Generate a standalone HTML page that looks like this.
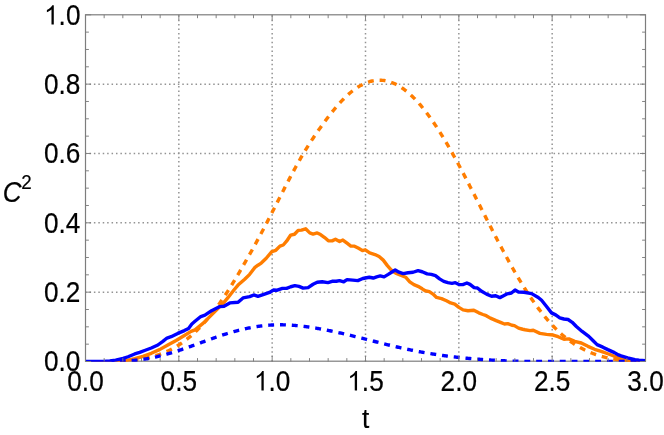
<!DOCTYPE html>
<html><head><meta charset="utf-8"><title>plot</title>
<style>html,body{margin:0;padding:0;background:#fff;}svg{display:block;font-family:"Liberation Sans",sans-serif;}</style>
</head><body>
<svg width="664" height="435" viewBox="0 0 664 435">
<rect width="664" height="435" fill="#fff"/>
<g stroke="#939393" stroke-width="1.5" stroke-dasharray="1.5 2.92" fill="none"><line x1="178.83" y1="361.50" x2="178.83" y2="14.80"/><line x1="272.17" y1="361.50" x2="272.17" y2="14.80"/><line x1="365.50" y1="361.50" x2="365.50" y2="14.80"/><line x1="458.83" y1="361.50" x2="458.83" y2="14.80"/><line x1="552.17" y1="361.50" x2="552.17" y2="14.80"/><line x1="85.50" y1="292.16" x2="645.50" y2="292.16" stroke-dashoffset="0.45"/><line x1="85.50" y1="222.82" x2="645.50" y2="222.82" stroke-dashoffset="0.45"/><line x1="85.50" y1="153.48" x2="645.50" y2="153.48" stroke-dashoffset="0.45"/><line x1="85.50" y1="84.14" x2="645.50" y2="84.14" stroke-dashoffset="0.45"/></g>
<rect x="85.5" y="14.8" width="560.0" height="346.4" fill="none" stroke="#7d7d7d" stroke-width="1.2"/>
<clipPath id="c"><rect x="85.5" y="14.8" width="560.0" height="346.84999999999997"/></clipPath><g clip-path="url(#c)"><path d="M85.50 363.58 L86.43 363.58 L87.37 363.58 L88.30 363.58 L89.23 363.58 L90.17 363.58 L91.10 363.58 L92.03 363.58 L92.97 363.58 L93.90 363.58 L94.83 363.58 L95.77 363.58 L96.70 363.58 L97.63 363.58 L98.57 363.58 L99.50 363.58 L100.43 363.58 L101.37 363.58 L102.30 363.58 L103.23 363.58 L104.17 363.58 L105.10 363.58 L106.03 363.58 L106.97 363.58 L107.90 363.58 L108.83 363.58 L109.77 363.58 L110.70 363.58 L111.63 363.58 L112.57 363.58 L113.50 363.58 L114.43 363.58 L115.37 363.58 L116.30 363.58 L117.23 361.27 L118.17 361.24 L119.10 361.21 L120.03 361.18 L120.97 361.14 L121.90 361.10 L122.83 361.06 L123.77 361.02 L124.70 360.97 L125.63 360.92 L126.57 360.86 L127.50 360.80 L128.43 360.74 L129.37 360.67 L130.30 360.60 L131.23 360.53 L132.17 360.17 L133.10 360.07 L134.03 359.97 L134.97 359.87 L135.90 359.76 L136.83 359.64 L137.77 359.52 L138.70 359.39 L139.63 359.25 L140.57 359.11 L141.50 358.96 L142.43 358.80 L143.37 358.64 L144.30 358.47 L145.23 358.29 L146.17 358.10 L147.10 357.90 L148.03 357.70 L148.97 357.49 L149.90 357.27 L150.83 357.04 L151.77 356.80 L152.70 356.55 L153.63 356.29 L154.57 356.02 L155.50 355.75 L156.43 355.46 L157.37 355.16 L158.30 354.85 L159.23 354.53 L160.17 354.20 L161.10 353.86 L162.03 353.50 L162.97 353.14 L163.90 352.76 L164.83 352.37 L165.77 351.97 L166.70 351.56 L167.63 351.13 L168.57 350.69 L169.50 350.24 L170.43 349.77 L171.37 349.29 L172.30 348.80 L173.23 348.30 L174.17 347.78 L175.10 347.24 L176.03 346.69 L176.97 346.13 L177.90 345.55 L178.83 344.96 L179.77 344.36 L180.70 343.73 L181.63 343.10 L182.57 342.44 L183.50 341.78 L184.43 341.09 L185.37 340.39 L186.30 339.68 L187.23 338.95 L188.17 338.20 L189.10 337.44 L190.03 336.66 L190.97 335.86 L191.90 335.05 L192.83 334.22 L193.77 333.37 L194.70 332.51 L195.63 331.63 L196.57 330.73 L197.50 329.81 L198.43 328.88 L199.37 327.94 L200.30 326.97 L201.23 325.99 L202.17 324.99 L203.10 323.98 L204.03 322.95 L204.97 321.90 L205.90 320.83 L206.83 319.75 L207.77 318.65 L208.70 317.54 L209.63 316.40 L210.57 315.26 L211.50 314.09 L212.43 312.91 L213.37 311.71 L214.30 310.50 L215.23 309.27 L216.17 308.02 L217.10 306.76 L218.03 305.48 L218.97 304.19 L219.90 302.88 L220.83 301.55 L221.77 300.21 L222.70 298.86 L223.63 297.49 L224.57 296.10 L225.50 294.70 L226.43 293.28 L227.37 291.85 L228.30 290.41 L229.23 288.95 L230.17 287.47 L231.10 285.99 L232.03 284.49 L232.97 282.97 L233.90 281.44 L234.83 279.90 L235.77 278.35 L236.70 276.79 L237.63 275.21 L238.57 273.63 L239.50 272.03 L240.43 270.43 L241.37 268.82 L242.30 267.21 L243.23 265.59 L244.17 263.96 L245.10 262.33 L246.03 260.70 L246.97 259.06 L247.90 257.42 L248.83 255.77 L249.77 254.12 L250.70 252.46 L251.63 250.80 L252.57 249.13 L253.50 247.45 L254.43 245.77 L255.37 244.08 L256.30 242.38 L257.23 240.67 L258.17 238.96 L259.10 237.24 L260.03 235.51 L260.97 233.77 L261.90 232.03 L262.83 230.27 L263.77 228.51 L264.70 226.73 L265.63 224.95 L266.57 223.17 L267.50 221.37 L268.43 219.57 L269.37 217.77 L270.30 215.96 L271.23 214.14 L272.17 212.32 L273.10 210.50 L274.03 208.68 L274.97 206.85 L275.90 205.03 L276.83 203.20 L277.77 201.37 L278.70 199.54 L279.63 197.72 L280.57 195.89 L281.50 194.07 L282.43 192.25 L283.37 190.44 L284.30 188.63 L285.23 186.82 L286.17 185.02 L287.10 183.22 L288.03 181.44 L288.97 179.66 L289.90 177.88 L290.83 176.12 L291.77 174.36 L292.70 172.62 L293.63 170.88 L294.57 169.16 L295.50 167.45 L296.43 165.75 L297.37 164.06 L298.30 162.39 L299.23 160.73 L300.17 159.09 L301.10 157.46 L302.03 155.85 L302.97 154.25 L303.90 152.68 L304.83 151.12 L305.77 149.57 L306.70 148.05 L307.63 146.55 L308.57 145.07 L309.50 143.61 L310.43 142.16 L311.37 140.73 L312.30 139.32 L313.23 137.93 L314.17 136.54 L315.10 135.18 L316.03 133.82 L316.97 132.48 L317.90 131.14 L318.83 129.82 L319.77 128.50 L320.70 127.20 L321.63 125.90 L322.57 124.61 L323.50 123.32 L324.43 122.05 L325.37 120.79 L326.30 119.54 L327.23 118.30 L328.17 117.07 L329.10 115.85 L330.03 114.64 L330.97 113.45 L331.90 112.28 L332.83 111.12 L333.77 109.97 L334.70 108.84 L335.63 107.72 L336.57 106.63 L337.50 105.55 L338.43 104.49 L339.37 103.44 L340.30 102.42 L341.23 101.41 L342.17 100.43 L343.10 99.47 L344.03 98.52 L344.97 97.60 L345.90 96.70 L346.83 95.82 L347.77 94.96 L348.70 94.13 L349.63 93.32 L350.57 92.53 L351.50 91.76 L352.43 91.01 L353.37 90.29 L354.30 89.60 L355.23 88.92 L356.17 88.27 L357.10 87.64 L358.03 87.04 L358.97 86.46 L359.90 85.91 L360.83 85.38 L361.77 84.88 L362.70 84.40 L363.63 83.95 L364.57 83.52 L365.50 83.12 L366.43 82.74 L367.37 82.39 L368.30 82.06 L369.23 81.76 L370.17 81.49 L371.10 81.24 L372.03 81.02 L372.97 80.82 L373.90 80.65 L374.83 80.51 L375.77 80.39 L376.70 80.30 L377.63 80.24 L378.57 80.20 L379.50 80.19 L380.43 80.21 L381.37 80.25 L382.30 80.32 L383.23 80.42 L384.17 80.54 L385.10 80.69 L386.03 80.87 L386.97 81.07 L387.90 81.30 L388.83 81.55 L389.77 81.83 L390.70 82.14 L391.63 82.48 L392.57 82.84 L393.50 83.22 L394.43 83.63 L395.37 84.07 L396.30 84.54 L397.23 85.03 L398.17 85.54 L399.10 86.09 L400.03 86.65 L400.97 87.24 L401.90 87.86 L402.83 88.50 L403.77 89.17 L404.70 89.86 L405.63 90.58 L406.57 91.32 L407.50 92.08 L408.43 92.87 L409.37 93.69 L410.30 94.52 L411.23 95.38 L412.17 96.27 L413.10 97.17 L414.03 98.10 L414.97 99.06 L415.90 100.03 L416.83 101.03 L417.77 102.05 L418.70 103.09 L419.63 104.16 L420.57 105.24 L421.50 106.35 L422.43 107.48 L423.37 108.63 L424.30 109.80 L425.23 110.99 L426.17 112.20 L427.10 113.43 L428.03 114.68 L428.97 115.95 L429.90 117.24 L430.83 118.54 L431.77 119.87 L432.70 121.21 L433.63 122.57 L434.57 123.95 L435.50 125.35 L436.43 126.77 L437.37 128.20 L438.30 129.64 L439.23 131.11 L440.17 132.59 L441.10 134.08 L442.03 135.60 L442.97 137.12 L443.90 138.66 L444.83 140.22 L445.77 141.79 L446.70 143.37 L447.63 144.96 L448.57 146.57 L449.50 148.20 L450.43 149.83 L451.37 151.48 L452.30 153.13 L453.23 154.80 L454.17 156.48 L455.10 158.18 L456.03 159.88 L456.97 161.59 L457.90 163.31 L458.83 165.04 L459.77 166.78 L460.70 168.53 L461.63 170.29 L462.57 172.06 L463.50 173.83 L464.43 175.61 L465.37 177.40 L466.30 179.19 L467.23 180.99 L468.17 182.79 L469.10 184.60 L470.03 186.42 L470.97 188.24 L471.90 190.06 L472.83 191.88 L473.77 193.71 L474.70 195.55 L475.63 197.38 L476.57 199.22 L477.50 201.06 L478.43 202.90 L479.37 204.74 L480.30 206.58 L481.23 208.42 L482.17 210.26 L483.10 212.11 L484.03 213.95 L484.97 215.79 L485.90 217.62 L486.83 219.46 L487.77 221.29 L488.70 223.12 L489.63 224.95 L490.57 226.78 L491.50 228.60 L492.43 230.41 L493.37 232.23 L494.30 234.03 L495.23 235.84 L496.17 237.64 L497.10 239.43 L498.03 241.21 L498.97 243.00 L499.90 244.77 L500.83 246.54 L501.77 248.29 L502.70 250.05 L503.63 251.79 L504.57 253.53 L505.50 255.25 L506.43 256.97 L507.37 258.68 L508.30 260.38 L509.23 262.07 L510.17 263.75 L511.10 265.42 L512.03 267.07 L512.97 268.72 L513.90 270.36 L514.83 271.98 L515.77 273.59 L516.70 275.19 L517.63 276.78 L518.57 278.36 L519.50 279.92 L520.43 281.47 L521.37 283.00 L522.30 284.52 L523.23 286.03 L524.17 287.53 L525.10 289.01 L526.03 290.47 L526.97 291.92 L527.90 293.36 L528.83 294.78 L529.77 296.19 L530.70 297.58 L531.63 298.95 L532.57 300.31 L533.50 301.65 L534.43 302.98 L535.37 304.29 L536.30 305.58 L537.23 306.86 L538.17 308.12 L539.10 309.37 L540.03 310.59 L540.97 311.81 L541.90 313.00 L542.83 314.17 L543.77 315.33 L544.70 316.48 L545.63 317.60 L546.57 318.71 L547.50 319.80 L548.43 320.87 L549.37 321.93 L550.30 322.97 L551.23 323.99 L552.17 325.00 L553.10 325.99 L554.03 326.96 L554.97 327.92 L555.90 328.86 L556.83 329.78 L557.77 330.68 L558.70 331.57 L559.63 332.44 L560.57 333.30 L561.50 334.14 L562.43 334.96 L563.37 335.77 L564.30 336.56 L565.23 337.33 L566.17 338.09 L567.10 338.83 L568.03 339.56 L568.97 340.27 L569.90 340.97 L570.83 341.65 L571.77 342.31 L572.70 342.96 L573.63 343.60 L574.57 344.22 L575.50 344.79 L576.43 345.37 L577.37 345.94 L578.30 346.49 L579.23 347.03 L580.17 347.56 L581.10 348.07 L582.03 348.57 L582.97 349.06 L583.90 349.54 L584.83 350.00 L585.77 350.45 L586.70 350.89 L587.63 351.31 L588.57 351.73 L589.50 352.13 L590.43 352.52 L591.37 352.90 L592.30 353.27 L593.23 353.63 L594.17 353.97 L595.10 354.31 L596.03 354.63 L596.97 354.94 L597.90 355.25 L598.83 355.54 L599.77 355.83 L600.70 356.10 L601.63 356.36 L602.57 356.62 L603.50 356.86 L604.43 357.10 L605.37 357.33 L606.30 357.55 L607.23 357.76 L608.17 357.96 L609.10 358.16 L610.03 358.35 L610.97 358.53 L611.90 358.70 L612.83 358.86 L613.77 359.02 L614.70 359.17 L615.63 359.31 L616.57 359.45 L617.50 359.58 L618.43 359.71 L619.37 359.83 L620.30 359.94 L621.23 360.05 L622.17 360.15 L623.10 360.24 L624.03 360.34 L624.97 360.42 L625.90 360.50 L626.83 360.58 L627.77 360.65 L628.70 360.72 L629.63 360.78 L630.57 360.84 L631.50 360.90 L632.43 360.95 L633.37 361.00 L634.30 361.05 L635.23 361.09 L636.17 361.13 L637.10 363.58 L638.03 363.58 L638.97 363.58 L639.90 363.58 L640.83 363.58 L641.77 363.58 L642.70 363.58 L643.63 363.58 L644.57 363.58 L645.50 363.58" stroke="#ff7d00" stroke-width="3.4" stroke-dasharray="5.9 5.9" stroke-dashoffset="-1.3" fill="none"/><path d="M85.50 363.58 L118.13 361.50 L127.24 360.41 L134.70 358.75 L142.98 356.27 L151.27 353.28 L159.55 349.64 L167.83 345.00 L176.11 340.53 L184.40 335.56 L191.02 331.42 L195.00 329.92 L203.28 323.13 L211.57 314.85 L219.85 306.57 L223.99 302.42 L228.13 297.45 L233.93 290.00 L238.07 285.09 L244.70 279.30 L249.67 274.33 L254.64 267.70 L257.95 265.21 L261.27 263.06 L266.23 258.26 L271.84 251.55 L275.80 250.30 L279.94 246.16 L283.25 245.00 L286.57 241.19 L290.71 235.06 L294.52 234.23 L298.16 230.42 L301.48 230.09 L305.62 228.77 L309.76 232.91 L313.07 234.07 L317.21 232.91 L320.53 234.57 L324.67 237.55 L328.31 240.70 L332.12 240.86 L335.44 239.20 L339.58 241.52 L342.89 240.03 L347.03 243.18 L350.84 246.16 L354.49 246.16 L358.63 248.32 L362.44 250.64 L365.26 249.81 L369.70 252.99 L374.97 254.52 L379.11 256.51 L383.25 260.15 L387.39 265.62 L391.54 270.26 L395.68 273.07 L400.65 275.23 L405.62 277.21 L409.76 281.85 L413.90 284.67 L418.04 286.33 L422.18 288.81 L425.20 290.77 L429.34 291.67 L433.00 294.07 L436.54 297.45 L441.51 298.61 L446.48 300.77 L450.62 302.92 L454.76 304.08 L458.90 307.39 L463.04 309.88 L468.01 310.71 L473.81 310.21 L478.78 312.86 L482.92 314.52 L486.23 315.68 L490.38 318.16 L496.17 320.65 L501.14 322.64 L504.46 323.96 L507.77 323.63 L511.91 325.29 L514.40 325.62 L518.54 328.10 L522.68 329.26 L525.00 329.76 L529.97 330.59 L533.28 330.26 L539.91 333.40 L546.54 334.40 L553.16 335.06 L558.13 336.72 L563.93 339.20 L568.90 338.87 L574.70 341.36 L581.33 343.01 L587.95 346.33 L594.58 349.31 L601.20 351.30 L607.83 353.78 L614.46 356.27 L621.08 358.75 L627.71 360.41 L635.00 361.23 L645.50 363.58" stroke="#ff7d00" stroke-width="3.4" stroke-linejoin="round" fill="none"/><path d="M85.50 363.58 L86.43 363.58 L87.37 363.58 L88.30 363.58 L89.23 363.58 L90.17 363.58 L91.10 363.58 L92.03 363.58 L92.97 363.58 L93.90 363.58 L94.83 363.58 L95.77 363.58 L96.70 363.58 L97.63 363.58 L98.57 363.58 L99.50 363.58 L100.43 363.58 L101.37 363.58 L102.30 363.58 L103.23 363.58 L104.17 363.58 L105.10 363.58 L106.03 363.58 L106.97 363.58 L107.90 363.58 L108.83 363.58 L109.77 363.58 L110.70 363.58 L111.63 363.58 L112.57 363.58 L113.50 361.37 L114.43 361.35 L115.37 361.33 L116.30 361.31 L117.23 361.29 L118.17 361.26 L119.10 361.23 L120.03 361.20 L120.97 361.17 L121.90 361.13 L122.83 361.10 L123.77 361.05 L124.70 361.01 L125.63 360.96 L126.57 360.91 L127.50 360.86 L128.43 360.80 L129.37 360.74 L130.30 360.67 L131.23 360.60 L132.17 360.53 L133.10 360.45 L134.03 360.37 L134.97 360.28 L135.90 360.19 L136.83 360.09 L137.77 359.99 L138.70 359.88 L139.63 359.77 L140.57 359.65 L141.50 359.52 L142.43 359.40 L143.37 359.27 L144.30 359.14 L145.23 359.00 L146.17 358.85 L147.10 358.70 L148.03 358.54 L148.97 358.37 L149.90 358.20 L150.83 358.02 L151.77 357.84 L152.70 357.65 L153.63 357.45 L154.57 357.25 L155.50 357.05 L156.43 356.84 L157.37 356.62 L158.30 356.40 L159.23 356.17 L160.17 355.94 L161.10 355.71 L162.03 355.47 L162.97 355.22 L163.90 354.97 L164.83 354.72 L165.77 354.46 L166.70 354.20 L167.63 353.93 L168.57 353.66 L169.50 353.39 L170.43 353.11 L171.37 352.83 L172.30 352.55 L173.23 352.26 L174.17 351.97 L175.10 351.67 L176.03 351.38 L176.97 351.08 L177.90 350.77 L178.83 350.47 L179.77 350.16 L180.70 349.85 L181.63 349.53 L182.57 349.22 L183.50 348.90 L184.43 348.58 L185.37 348.25 L186.30 347.93 L187.23 347.60 L188.17 347.27 L189.10 346.94 L190.03 346.61 L190.97 346.28 L191.90 345.95 L192.83 345.61 L193.77 345.27 L194.70 344.93 L195.63 344.60 L196.57 344.26 L197.50 343.92 L198.43 343.58 L199.37 343.23 L200.30 342.89 L201.23 342.55 L202.17 342.21 L203.10 341.87 L204.03 341.53 L204.97 341.19 L205.90 340.85 L206.83 340.51 L207.77 340.17 L208.70 339.84 L209.63 339.50 L210.57 339.16 L211.50 338.83 L212.43 338.50 L213.37 338.17 L214.30 337.84 L215.23 337.51 L216.17 337.19 L217.10 336.87 L218.03 336.55 L218.97 336.23 L219.90 335.91 L220.83 335.60 L221.77 335.29 L222.70 334.98 L223.63 334.68 L224.57 334.38 L225.50 334.08 L226.43 333.79 L227.37 333.50 L228.30 333.21 L229.23 332.93 L230.17 332.65 L231.10 332.38 L232.03 332.11 L232.97 331.84 L233.90 331.58 L234.83 331.32 L235.77 331.07 L236.70 330.82 L237.63 330.57 L238.57 330.33 L239.50 330.10 L240.43 329.86 L241.37 329.64 L242.30 329.41 L243.23 329.20 L244.17 328.98 L245.10 328.77 L246.03 328.57 L246.97 328.37 L247.90 328.18 L248.83 327.99 L249.77 327.80 L250.70 327.62 L251.63 327.45 L252.57 327.28 L253.50 327.11 L254.43 326.96 L255.37 326.80 L256.30 326.65 L257.23 326.51 L258.17 326.37 L259.10 326.24 L260.03 326.11 L260.97 325.99 L261.90 325.88 L262.83 325.77 L263.77 325.66 L264.70 325.56 L265.63 325.47 L266.57 325.39 L267.50 325.30 L268.43 325.23 L269.37 325.16 L270.30 325.10 L271.23 325.04 L272.17 324.99 L273.10 324.95 L274.03 324.91 L274.97 324.87 L275.90 324.85 L276.83 324.83 L277.77 324.81 L278.70 324.80 L279.63 324.80 L280.57 324.80 L281.50 324.80 L282.43 324.82 L283.37 324.83 L284.30 324.86 L285.23 324.88 L286.17 324.92 L287.10 324.95 L288.03 325.00 L288.97 325.04 L289.90 325.09 L290.83 325.15 L291.77 325.21 L292.70 325.28 L293.63 325.35 L294.57 325.42 L295.50 325.50 L296.43 325.58 L297.37 325.67 L298.30 325.76 L299.23 325.85 L300.17 325.95 L301.10 326.05 L302.03 326.16 L302.97 326.27 L303.90 326.38 L304.83 326.50 L305.77 326.62 L306.70 326.74 L307.63 326.87 L308.57 327.00 L309.50 327.13 L310.43 327.27 L311.37 327.41 L312.30 327.55 L313.23 327.70 L314.17 327.85 L315.10 328.00 L316.03 328.15 L316.97 328.31 L317.90 328.47 L318.83 328.63 L319.77 328.80 L320.70 328.96 L321.63 329.13 L322.57 329.31 L323.50 329.48 L324.43 329.66 L325.37 329.84 L326.30 330.02 L327.23 330.21 L328.17 330.39 L329.10 330.58 L330.03 330.77 L330.97 330.97 L331.90 331.16 L332.83 331.36 L333.77 331.56 L334.70 331.76 L335.63 331.96 L336.57 332.17 L337.50 332.37 L338.43 332.58 L339.37 332.79 L340.30 333.00 L341.23 333.22 L342.17 333.43 L343.10 333.65 L344.03 333.86 L344.97 334.08 L345.90 334.30 L346.83 334.52 L347.77 334.75 L348.70 334.97 L349.63 335.19 L350.57 335.42 L351.50 335.65 L352.43 335.87 L353.37 336.10 L354.30 336.33 L355.23 336.56 L356.17 336.79 L357.10 337.03 L358.03 337.26 L358.97 337.49 L359.90 337.72 L360.83 337.96 L361.77 338.19 L362.70 338.43 L363.63 338.67 L364.57 338.90 L365.50 339.14 L366.43 339.37 L367.37 339.61 L368.30 339.85 L369.23 340.09 L370.17 340.32 L371.10 340.56 L372.03 340.80 L372.97 341.03 L373.90 341.27 L374.83 341.51 L375.77 341.74 L376.70 341.98 L377.63 342.22 L378.57 342.45 L379.50 342.69 L380.43 342.92 L381.37 343.16 L382.30 343.39 L383.23 343.62 L384.17 343.86 L385.10 344.09 L386.03 344.32 L386.97 344.55 L387.90 344.78 L388.83 345.01 L389.77 345.23 L390.70 345.46 L391.63 345.68 L392.57 345.91 L393.50 346.13 L394.43 346.35 L395.37 346.57 L396.30 346.79 L397.23 347.01 L398.17 347.23 L399.10 347.44 L400.03 347.66 L400.97 347.87 L401.90 348.08 L402.83 348.29 L403.77 348.50 L404.70 348.70 L405.63 348.91 L406.57 349.11 L407.50 349.31 L408.43 349.51 L409.37 349.71 L410.30 349.90 L411.23 350.09 L412.17 350.28 L413.10 350.47 L414.03 350.66 L414.97 350.84 L415.90 351.03 L416.83 351.21 L417.77 351.38 L418.70 351.56 L419.63 351.74 L420.57 351.91 L421.50 352.08 L422.43 352.25 L423.37 352.41 L424.30 352.58 L425.23 352.74 L426.17 352.90 L427.10 353.06 L428.03 353.22 L428.97 353.38 L429.90 353.53 L430.83 353.68 L431.77 353.83 L432.70 353.98 L433.63 354.13 L434.57 354.27 L435.50 354.42 L436.43 354.56 L437.37 354.70 L438.30 354.83 L439.23 354.97 L440.17 355.10 L441.10 355.24 L442.03 355.37 L442.97 355.50 L443.90 355.62 L444.83 355.75 L445.77 355.87 L446.70 356.00 L447.63 356.12 L448.57 356.24 L449.50 356.35 L450.43 356.47 L451.37 356.59 L452.30 356.70 L453.23 356.81 L454.17 356.92 L455.10 357.03 L456.03 357.13 L456.97 357.24 L457.90 357.34 L458.83 357.44 L459.77 357.54 L460.70 357.64 L461.63 357.74 L462.57 357.84 L463.50 357.93 L464.43 358.02 L465.37 358.11 L466.30 358.20 L467.23 358.29 L468.17 358.38 L469.10 358.47 L470.03 358.55 L470.97 358.63 L471.90 358.72 L472.83 358.80 L473.77 358.87 L474.70 358.95 L475.63 359.03 L476.57 359.10 L477.50 359.18 L478.43 359.25 L479.37 359.32 L480.30 359.39 L481.23 359.46 L482.17 359.52 L483.10 359.59 L484.03 359.66 L484.97 359.72 L485.90 359.78 L486.83 359.84 L487.77 359.90 L488.70 359.96 L489.63 360.02 L490.57 360.07 L491.50 360.13 L492.43 360.18 L493.37 360.23 L494.30 360.29 L495.23 360.34 L496.17 360.39 L497.10 360.44 L498.03 360.49 L498.97 360.54 L499.90 360.59 L500.83 360.64 L501.77 360.69 L502.70 360.73 L503.63 360.77 L504.57 360.82 L505.50 360.85 L506.43 360.89 L507.37 360.93 L508.30 360.96 L509.23 361.00 L510.17 361.03 L511.10 361.06 L512.03 361.09 L512.97 361.12 L513.90 361.14 L514.83 361.17 L515.77 361.19 L516.70 361.22 L517.63 361.24 L518.57 361.26 L519.50 361.28 L520.43 361.30 L521.37 361.31 L522.30 361.33 L523.23 361.35 L524.17 361.36 L525.10 361.37 L526.03 361.39 L526.97 361.40 L527.90 361.41 L528.83 361.42 L529.77 361.43 L530.70 361.44 L531.63 361.45 L532.57 361.45 L533.50 361.46 L534.43 361.46 L535.37 361.47 L536.30 361.47 L537.23 361.48 L538.17 361.48 L539.10 361.49 L540.03 361.49 L540.97 361.49 L541.90 361.49 L542.83 361.49 L543.77 361.50 L544.70 361.50 L545.63 361.50 L546.57 361.50 L547.50 361.50 L548.43 361.50 L549.37 361.50 L550.30 361.50 L551.23 361.50 L552.17 361.50 L553.10 361.50 L554.03 361.50 L554.97 361.50 L555.90 361.50 L556.83 361.50 L557.77 361.50 L558.70 361.50 L559.63 361.50 L560.57 361.50 L561.50 361.50 L562.43 361.50 L563.37 361.50 L564.30 361.50 L565.23 361.50 L566.17 361.50 L567.10 361.50 L568.03 361.50 L568.97 361.50 L569.90 361.50 L570.83 361.50 L571.77 361.50 L572.70 361.50 L573.63 361.50 L574.57 361.50 L575.50 361.50 L576.43 361.50 L577.37 361.50 L578.30 361.50 L579.23 361.50 L580.17 361.50 L581.10 361.50 L582.03 361.50 L582.97 361.50 L583.90 361.50 L584.83 361.50 L585.77 361.50 L586.70 361.50 L587.63 361.50 L588.57 361.50 L589.50 361.50 L590.43 361.50 L591.37 361.50 L592.30 361.50 L593.23 361.50 L594.17 361.50 L595.10 361.50 L596.03 361.50 L596.97 361.50 L597.90 361.50 L598.83 361.50 L599.77 361.50 L600.70 361.50 L601.63 361.50 L602.57 361.50 L603.50 361.50 L604.43 361.50 L605.37 361.50 L606.30 361.50 L607.23 361.50 L608.17 361.50 L609.10 361.50 L610.03 361.50 L610.97 361.50 L611.90 361.50 L612.83 361.50 L613.77 361.50 L614.70 361.50 L615.63 361.50 L616.57 361.50 L617.50 361.50 L618.43 361.50 L619.37 361.50 L620.30 361.50 L621.23 361.50 L622.17 361.50 L623.10 361.50 L624.03 361.50 L624.97 361.50 L625.90 361.50 L626.83 361.50 L627.77 361.50 L628.70 361.50 L629.63 361.50 L630.57 361.50 L631.50 361.50 L632.43 361.50 L633.37 361.50 L634.30 361.50 L635.23 361.50 L636.17 361.50 L637.10 361.50 L638.03 361.50 L638.97 361.50 L639.90 361.50 L640.83 361.50 L641.77 361.50 L642.70 361.50 L643.63 361.50 L644.57 361.50 L645.50 361.50" stroke="#0000ff" stroke-width="3.4" stroke-dasharray="5.9 5.9" stroke-dashoffset="-0.4" fill="none"/><path d="M85.50 361.48 L103.22 361.40 L109.85 360.90 L115.65 360.08 L123.10 358.42 L128.07 356.76 L134.70 353.95 L139.67 352.45 L144.64 350.47 L151.27 347.98 L157.89 345.00 L162.86 341.36 L167.00 338.04 L171.14 336.72 L177.77 333.40 L184.40 330.59 L188.54 328.43 L191.85 323.96 L195.00 321.31 L200.80 316.51 L204.94 315.18 L211.57 310.71 L219.85 306.57 L223.99 306.23 L229.79 302.92 L238.07 302.26 L243.04 297.95 L249.67 296.63 L253.81 294.97 L257.95 296.30 L264.58 294.14 L269.55 292.48 L273.31 290.06 L277.23 290.20 L282.42 288.41 L286.57 288.41 L290.71 286.75 L294.85 285.59 L298.99 286.42 L303.13 288.08 L308.10 287.58 L313.07 284.27 L317.21 282.28 L322.18 281.78 L327.98 282.61 L332.12 281.28 L336.27 281.28 L339.58 280.62 L343.72 281.78 L347.03 279.63 L352.83 280.12 L357.80 280.62 L362.77 278.47 L369.28 277.26 L373.31 278.04 L376.63 276.88 L380.27 275.89 L384.08 276.88 L388.22 274.40 L392.36 271.75 L395.18 270.09 L398.99 272.24 L403.13 273.57 L408.10 272.74 L413.07 272.24 L418.04 270.59 L422.18 271.75 L427.15 273.90 L431.30 274.40 L435.44 275.56 L439.58 278.87 L443.72 281.36 L447.86 282.68 L452.00 283.34 L455.32 282.68 L459.46 284.67 L462.77 284.67 L466.91 283.01 L470.00 284.37 L474.14 287.68 L477.45 288.01 L481.60 291.33 L486.57 294.14 L491.54 296.30 L495.68 295.80 L499.82 297.62 L503.13 295.96 L507.27 293.81 L511.42 292.98 L515.06 290.00 L518.87 292.15 L524.01 292.24 L531.63 293.64 L538.25 297.45 L541.57 300.27 L546.54 306.57 L551.51 312.86 L555.65 314.85 L559.79 317.83 L563.93 318.99 L568.07 319.49 L572.21 322.30 L576.36 326.45 L582.15 331.42 L588.78 336.39 L592.92 340.53 L597.06 344.67 L602.86 347.15 L607.83 349.64 L614.46 352.62 L618.43 354.91 L621.08 355.93 L627.71 357.92 L635.00 359.58 L638.97 360.29 L645.50 360.63" stroke="#0000ff" stroke-width="3.4" stroke-linejoin="round" fill="none"/></g>
<g stroke="#7d7d7d" stroke-width="0.95" fill="none"><line x1="85.50" y1="361.50" x2="85.50" y2="355.90"/><line x1="85.50" y1="14.80" x2="85.50" y2="20.40"/><line x1="104.17" y1="361.50" x2="104.17" y2="358.10"/><line x1="104.17" y1="14.80" x2="104.17" y2="18.20"/><line x1="122.83" y1="361.50" x2="122.83" y2="358.10"/><line x1="122.83" y1="14.80" x2="122.83" y2="18.20"/><line x1="141.50" y1="361.50" x2="141.50" y2="358.10"/><line x1="141.50" y1="14.80" x2="141.50" y2="18.20"/><line x1="160.17" y1="361.50" x2="160.17" y2="358.10"/><line x1="160.17" y1="14.80" x2="160.17" y2="18.20"/><line x1="178.83" y1="361.50" x2="178.83" y2="355.90"/><line x1="178.83" y1="14.80" x2="178.83" y2="20.40"/><line x1="197.50" y1="361.50" x2="197.50" y2="358.10"/><line x1="197.50" y1="14.80" x2="197.50" y2="18.20"/><line x1="216.17" y1="361.50" x2="216.17" y2="358.10"/><line x1="216.17" y1="14.80" x2="216.17" y2="18.20"/><line x1="234.83" y1="361.50" x2="234.83" y2="358.10"/><line x1="234.83" y1="14.80" x2="234.83" y2="18.20"/><line x1="253.50" y1="361.50" x2="253.50" y2="358.10"/><line x1="253.50" y1="14.80" x2="253.50" y2="18.20"/><line x1="272.17" y1="361.50" x2="272.17" y2="355.90"/><line x1="272.17" y1="14.80" x2="272.17" y2="20.40"/><line x1="290.83" y1="361.50" x2="290.83" y2="358.10"/><line x1="290.83" y1="14.80" x2="290.83" y2="18.20"/><line x1="309.50" y1="361.50" x2="309.50" y2="358.10"/><line x1="309.50" y1="14.80" x2="309.50" y2="18.20"/><line x1="328.17" y1="361.50" x2="328.17" y2="358.10"/><line x1="328.17" y1="14.80" x2="328.17" y2="18.20"/><line x1="346.83" y1="361.50" x2="346.83" y2="358.10"/><line x1="346.83" y1="14.80" x2="346.83" y2="18.20"/><line x1="365.50" y1="361.50" x2="365.50" y2="355.90"/><line x1="365.50" y1="14.80" x2="365.50" y2="20.40"/><line x1="384.17" y1="361.50" x2="384.17" y2="358.10"/><line x1="384.17" y1="14.80" x2="384.17" y2="18.20"/><line x1="402.83" y1="361.50" x2="402.83" y2="358.10"/><line x1="402.83" y1="14.80" x2="402.83" y2="18.20"/><line x1="421.50" y1="361.50" x2="421.50" y2="358.10"/><line x1="421.50" y1="14.80" x2="421.50" y2="18.20"/><line x1="440.17" y1="361.50" x2="440.17" y2="358.10"/><line x1="440.17" y1="14.80" x2="440.17" y2="18.20"/><line x1="458.83" y1="361.50" x2="458.83" y2="355.90"/><line x1="458.83" y1="14.80" x2="458.83" y2="20.40"/><line x1="477.50" y1="361.50" x2="477.50" y2="358.10"/><line x1="477.50" y1="14.80" x2="477.50" y2="18.20"/><line x1="496.17" y1="361.50" x2="496.17" y2="358.10"/><line x1="496.17" y1="14.80" x2="496.17" y2="18.20"/><line x1="514.83" y1="361.50" x2="514.83" y2="358.10"/><line x1="514.83" y1="14.80" x2="514.83" y2="18.20"/><line x1="533.50" y1="361.50" x2="533.50" y2="358.10"/><line x1="533.50" y1="14.80" x2="533.50" y2="18.20"/><line x1="552.17" y1="361.50" x2="552.17" y2="355.90"/><line x1="552.17" y1="14.80" x2="552.17" y2="20.40"/><line x1="570.83" y1="361.50" x2="570.83" y2="358.10"/><line x1="570.83" y1="14.80" x2="570.83" y2="18.20"/><line x1="589.50" y1="361.50" x2="589.50" y2="358.10"/><line x1="589.50" y1="14.80" x2="589.50" y2="18.20"/><line x1="608.17" y1="361.50" x2="608.17" y2="358.10"/><line x1="608.17" y1="14.80" x2="608.17" y2="18.20"/><line x1="626.83" y1="361.50" x2="626.83" y2="358.10"/><line x1="626.83" y1="14.80" x2="626.83" y2="18.20"/><line x1="645.50" y1="361.50" x2="645.50" y2="355.90"/><line x1="645.50" y1="14.80" x2="645.50" y2="20.40"/><line x1="85.50" y1="361.50" x2="91.10" y2="361.50"/><line x1="645.50" y1="361.50" x2="639.90" y2="361.50"/><line x1="85.50" y1="344.17" x2="88.90" y2="344.17"/><line x1="645.50" y1="344.17" x2="642.10" y2="344.17"/><line x1="85.50" y1="326.83" x2="88.90" y2="326.83"/><line x1="645.50" y1="326.83" x2="642.10" y2="326.83"/><line x1="85.50" y1="309.50" x2="88.90" y2="309.50"/><line x1="645.50" y1="309.50" x2="642.10" y2="309.50"/><line x1="85.50" y1="292.16" x2="91.10" y2="292.16"/><line x1="645.50" y1="292.16" x2="639.90" y2="292.16"/><line x1="85.50" y1="274.82" x2="88.90" y2="274.82"/><line x1="645.50" y1="274.82" x2="642.10" y2="274.82"/><line x1="85.50" y1="257.49" x2="88.90" y2="257.49"/><line x1="645.50" y1="257.49" x2="642.10" y2="257.49"/><line x1="85.50" y1="240.16" x2="88.90" y2="240.16"/><line x1="645.50" y1="240.16" x2="642.10" y2="240.16"/><line x1="85.50" y1="222.82" x2="91.10" y2="222.82"/><line x1="645.50" y1="222.82" x2="639.90" y2="222.82"/><line x1="85.50" y1="205.49" x2="88.90" y2="205.49"/><line x1="645.50" y1="205.49" x2="642.10" y2="205.49"/><line x1="85.50" y1="188.15" x2="88.90" y2="188.15"/><line x1="645.50" y1="188.15" x2="642.10" y2="188.15"/><line x1="85.50" y1="170.81" x2="88.90" y2="170.81"/><line x1="645.50" y1="170.81" x2="642.10" y2="170.81"/><line x1="85.50" y1="153.48" x2="91.10" y2="153.48"/><line x1="645.50" y1="153.48" x2="639.90" y2="153.48"/><line x1="85.50" y1="136.15" x2="88.90" y2="136.15"/><line x1="645.50" y1="136.15" x2="642.10" y2="136.15"/><line x1="85.50" y1="118.81" x2="88.90" y2="118.81"/><line x1="645.50" y1="118.81" x2="642.10" y2="118.81"/><line x1="85.50" y1="101.48" x2="88.90" y2="101.48"/><line x1="645.50" y1="101.48" x2="642.10" y2="101.48"/><line x1="85.50" y1="84.14" x2="91.10" y2="84.14"/><line x1="645.50" y1="84.14" x2="639.90" y2="84.14"/><line x1="85.50" y1="66.81" x2="88.90" y2="66.81"/><line x1="645.50" y1="66.81" x2="642.10" y2="66.81"/><line x1="85.50" y1="49.47" x2="88.90" y2="49.47"/><line x1="645.50" y1="49.47" x2="642.10" y2="49.47"/><line x1="85.50" y1="32.14" x2="88.90" y2="32.14"/><line x1="645.50" y1="32.14" x2="642.10" y2="32.14"/><line x1="85.50" y1="14.80" x2="91.10" y2="14.80"/><line x1="645.50" y1="14.80" x2="639.90" y2="14.80"/></g>
<g font-family="Liberation Sans, sans-serif" font-size="26.2" fill="#000" stroke="#000" stroke-width="0.2" style="opacity:0.999"><text transform="translate(67.29 390.55) scale(1 1.135)">0.0</text><text transform="translate(160.62 390.55) scale(1 1.135)">0.5</text><path transform="translate(253.96 390.40) scale(0.012793 -0.013145)" d="M763 0H583V1147Q518 1085 412.5 1023Q307 961 223 930V1104Q374 1175 487 1276Q600 1377 647 1472H763Z" stroke="none"/><text transform="translate(268.53 390.55) scale(1 1.135)">.0</text><path transform="translate(347.29 390.40) scale(0.012793 -0.013145)" d="M763 0H583V1147Q518 1085 412.5 1023Q307 961 223 930V1104Q374 1175 487 1276Q600 1377 647 1472H763Z" stroke="none"/><text transform="translate(361.86 390.55) scale(1 1.135)">.5</text><text transform="translate(440.62 390.55) scale(1 1.135)">2.0</text><text transform="translate(533.96 390.55) scale(1 1.135)">2.5</text><text transform="translate(627.29 390.55) scale(1 1.135)">3.0</text><text transform="translate(44.03 371.35) scale(1 1.135)">0.0</text><text transform="translate(44.03 302.01) scale(1 1.135)">0.2</text><text transform="translate(44.03 232.67) scale(1 1.135)">0.4</text><text transform="translate(44.03 163.33) scale(1 1.135)">0.6</text><text transform="translate(44.03 93.99) scale(1 1.135)">0.8</text><path transform="translate(44.03 24.50) scale(0.012793 -0.013145)" d="M763 0H583V1147Q518 1085 412.5 1023Q307 961 223 930V1104Q374 1175 487 1276Q600 1377 647 1472H763Z" stroke="none"/><text transform="translate(58.60 24.65) scale(1 1.135)">.0</text><text transform="translate(365.70 428.20) scale(1 1.09)" text-anchor="middle">t</text><text transform="translate(2.80 202.40) scale(1 1.124)" font-size="26" font-style="italic">C</text><text transform="translate(21.20 188.50) scale(1 1.065)" font-size="18.8">2</text></g>
</svg>
</body></html>
